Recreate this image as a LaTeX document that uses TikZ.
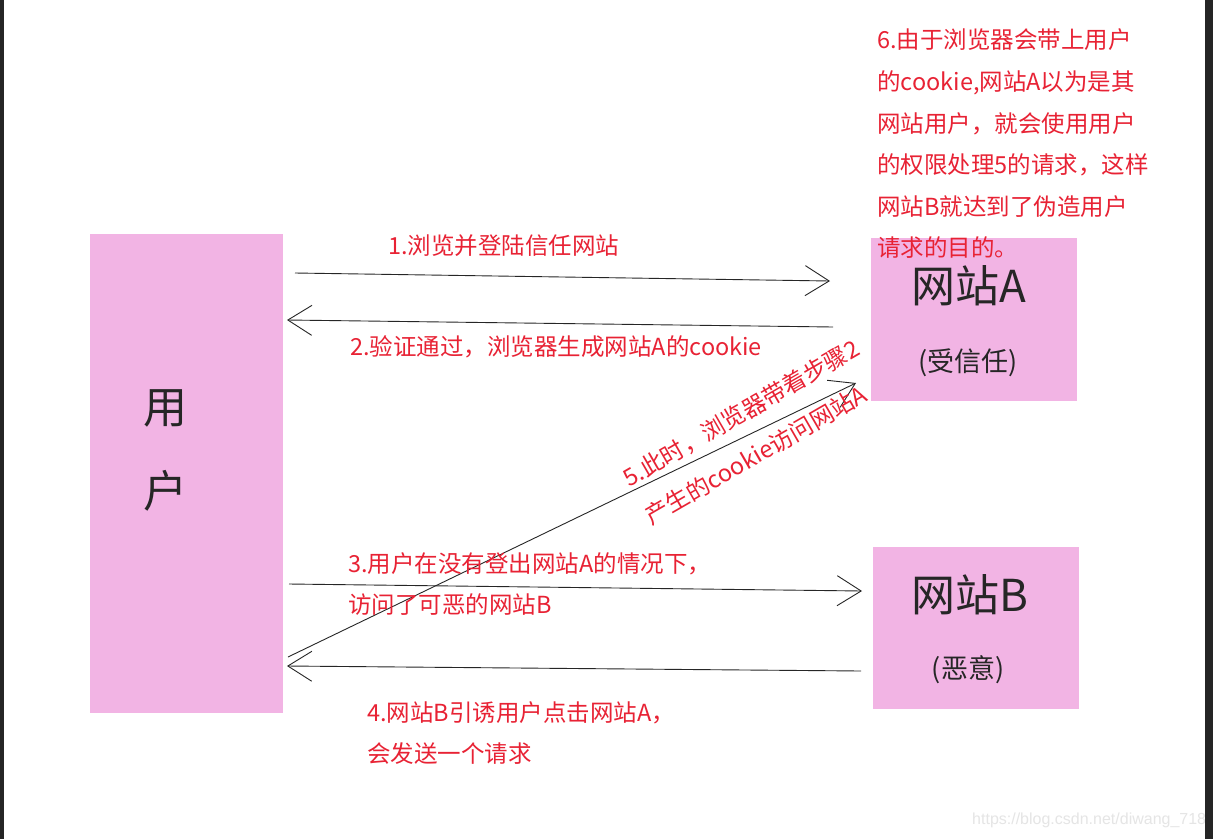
\documentclass[tikz,border=0pt]{standalone}
\usepackage{fontspec}
\usepackage{xcolor}
\usepackage{tikz}
\usetikzlibrary{arrows.meta}
\newfontfamily\cjk{Noto Sans CJK SC}
\newfontfamily\wmfont{Liberation Sans}
\definecolor{boxpink}{RGB}{242,180,228}
\definecolor{notered}{RGB}{232,34,52}
\definecolor{framegray}{RGB}{37,37,37}

\begin{document}
\begin{tikzpicture}[x=1pt,y=-1pt,
box/.style={fill=boxpink,inner sep=0pt},
title/.style={font=\cjk\fontsize{44}{84}\selectfont,text=black!85,align=center,inner sep=0pt},
subtitle/.style={font=\cjk\fontsize{27}{30}\selectfont,text=black!85,inner sep=0pt},
note/.style={font=\cjk\fontsize{23.5}{41.6}\selectfont,text=notered,align=left,inner sep=0pt},
myedge/.style={-{Straight Barb[length=24pt,width=30pt]},draw=black!85,line width=0.9pt}]
\useasboundingbox (0,0) rectangle (1213,839);
\fill[white] (0,0) rectangle (1213,839);
% boxes
\node[box,minimum width=193pt,minimum height=479pt] (user) at (186.5,473.5) {};
\node[box,minimum width=206pt,minimum height=163pt] (siteA) at (974,319.5) {};
\node[box,minimum width=206pt,minimum height=162pt] (siteB) at (976,628) {};
\node[title] (userT) at (165,450) {用\\户};
\node[title] (siteAT) at (969,286) {网站A};
\node[subtitle] (siteAS) at (968,363) {(受信任)};
\node[title] (siteBT) at (970,595) {网站B};
\node[subtitle] (siteBS) at (968,670) {(恶意)};
% arrow ends
\coordinate (u1) at (295,273);
\coordinate (a1) at (830,281);
\coordinate (a2) at (833,327);
\coordinate (u2) at (287,320);
\coordinate (u3) at (289,584);
\coordinate (b3) at (862,591);
\coordinate (b4) at (861,671);
\coordinate (u4) at (287,666);
\coordinate (u5) at (288,657);
\coordinate (a5) at (856,383);
\draw[myedge] (u1) -- (a1);
\draw[myedge] (a2) -- (u2);
\draw[myedge] (u3) -- (b3);
\draw[myedge] (b4) -- (u4);
\draw[myedge] (u5) -- (a5);
% labels
\node[note,anchor=west] (step1) at (388,246) {1.浏览并登陆信任网站};
\node[note,anchor=west] (step2) at (350,347) {2.验证通过，浏览器生成网站A的cookie};
\node[note,anchor=west] (step3) at (348,584) {3.用户在没有登出网站A的情况下，\\访问了可恶的网站B};
\node[note,anchor=west] (step4) at (367,733) {4.网站B引诱用户点击网站A，\\会发送一个请求};
\node[note,rotate=30,font=\cjk\fontsize{23.5}{44}\selectfont] (step5) at (752,432) {5.此时，浏览器带着步骤2\\产生的cookie访问网站A};
\node[note,anchor=west] (step6) at (877,144) {6.由于浏览器会带上用户\\的cookie,网站A以为是其\\网站用户，就会使用用户\\的权限处理5的请求，这样\\网站B就达到了伪造用户\\请求的目的。};
% watermark and frame
\node[font=\wmfont\fontsize{16}{16}\selectfont,text=black!10,anchor=west,inner sep=0pt] (mark) at (972,820) {https://blog.csdn.net/diwang\_718};
\fill[framegray] (0,0) rectangle (4,839);
\fill[framegray] (1205,0) rectangle (1213,839);
\end{tikzpicture}
\end{document}
